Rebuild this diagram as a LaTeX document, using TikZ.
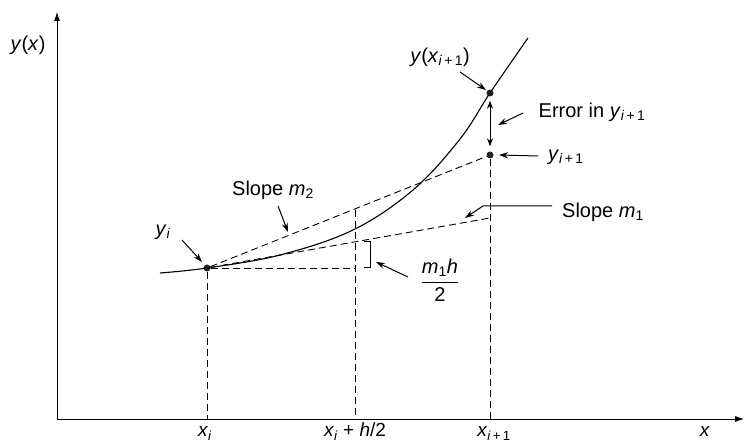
\documentclass[tikz,border=0pt]{standalone}
\usepackage{fontspec}
\setmainfont{Liberation Sans}
\usetikzlibrary{arrows.meta}
\newcommand{\vi}[1]{\textit{#1}}
\newcommand{\sbs}[1]{\textsubscript{#1}}
\begin{document}
\begin{tikzpicture}[x=1pt,y=-1pt,
  lbl/.style={font=\fontsize{20}{22}\selectfont, inner sep=1pt},
  axlbl/.style={font=\fontsize{19}{21}\selectfont, inner sep=0pt, anchor=base},
  axisline/.style={line width=0.8pt, -{Latex[length=9pt,width=6pt]}},
  guide/.style={line width=0.9pt, dash pattern=on 7pt off 4pt},
  dotmark/.style={circle, fill=black!85, inner sep=0pt, minimum size=7pt},
  pointer/.style={line width=1pt, -{Stealth[length=9pt,width=6pt]}},
  curveline/.style={line width=1.1pt}]
\useasboundingbox (0,0) rectangle (745,443);
% axes
\coordinate (O) at (57,419);
\coordinate (ytop) at (57,12);
\coordinate (xend) at (744,419);
\draw[axisline] (O) -- (ytop);
\draw[axisline] (O) -- (xend);
\node[lbl] (ylab) at (28,45) {\vi{y}(\vi{x})};
\node[axlbl] (xlab) at (705,437) {\vi{x}};
% points
\node[dotmark] (yi) at (207,268) {};
\node[dotmark] (Yn) at (490,93) {};
\node[dotmark] (yn) at (490,155) {};
\coordinate (m1end) at (490,218);
\coordinate (m1mid) at (355,242);
\coordinate (m2mid) at (355,210);
\coordinate (hbase) at (355,268);
\coordinate (ax1) at (207,419);
\coordinate (ax2) at (355,419);
\coordinate (ax3) at (490,419);
% curve
\draw[curveline] plot[smooth, tension=0.6] coordinates {(160,273) (207,268) (280,255) (353,230) (413,190) (460,139) (490,93) (528,38)};
% dashed guides
\draw[guide] (yi) -- (m1end);
\draw[guide] (yi) -- (yn);
\draw[guide] (yi) -- (hbase);
\draw[guide] (yi) -- (ax1);
\draw[guide] (m2mid) -- (ax2);
\draw[guide] (yn) -- (ax3);
% bracket
\draw[line width=1pt] (364,242) -- (370,242) -- (370,268) -- (364,268);
% error arrow
\draw[line width=1pt, {Stealth[length=8pt,width=6pt]}-{Stealth[length=8pt,width=6pt]}, shorten <=4pt, shorten >=5pt] (Yn) -- (yn);
% x labels
\node[axlbl] (lxi) at (205,437) {\vi{x}\sbs{\vi{i}}};
\node[axlbl] (lxh) at (355,437) {\vi{x}\sbs{\vi{i}} + \vi{h}/2};
\node[axlbl] (lxn) at (494,437) {\vi{x}\sbs{\vi{i}\,+\,1}};
% annotations
\node[lbl] (lYn) at (440,57) {\vi{y}(\vi{x}\sbs{\vi{i}\,+\,1})};
\node[lbl] (lerr) at (592,112) {Error in \vi{y}\sbs{\vi{i}\,+\,1}};
\node[lbl] (lyn) at (566,157) {\vi{y}\sbs{\vi{i}\,+\,1}};
\node[lbl] (lm1) at (603,212) {Slope \vi{m}\sbs{1}};
\node[lbl] (lm2) at (273,190) {Slope \vi{m}\sbs{2}};
\node[lbl] (lyi) at (163,232) {\vi{y}\sbs{\vi{i}}};
\node[lbl] (lfr) at (440,280) {$\displaystyle\frac{\hbox{\vi{m}\sbs{1}\vi{h}}}{\hbox{2}}$};
% pointers
\coordinate (pA1) at (460,72);  \coordinate (pA2) at (486,90);
\coordinate (pB1) at (523,113); \coordinate (pB2) at (498,125);
\coordinate (pC1) at (538,156); \coordinate (pC2) at (499,155);
\coordinate (pD1) at (552,206); \coordinate (pD2) at (483,206); \coordinate (pD3) at (465,218);
\coordinate (pE1) at (278,206); \coordinate (pE2) at (288,232);
\coordinate (pF1) at (182,240); \coordinate (pF2) at (202,262);
\coordinate (pG1) at (408,277); \coordinate (pG2) at (376,262);
\draw[pointer] (pA1) -- (pA2);
\draw[pointer] (pB1) -- (pB2);
\draw[pointer] (pC1) -- (pC2);
\draw[pointer] (pD1) -- (pD2) -- (pD3);
\draw[pointer] (pE1) -- (pE2);
\draw[pointer] (pF1) -- (pF2);
\draw[pointer] (pG1) -- (pG2);
\end{tikzpicture}
\end{document}
